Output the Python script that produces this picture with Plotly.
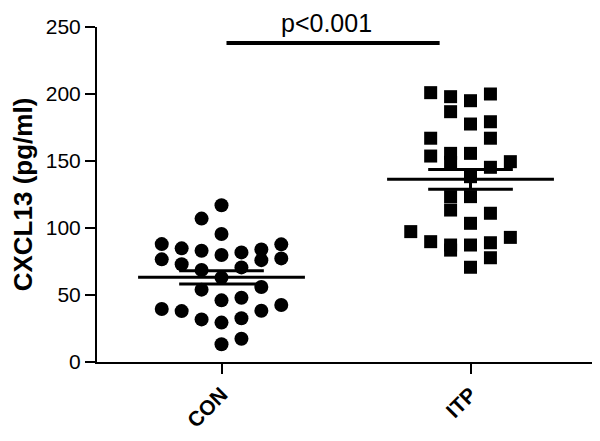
import plotly.graph_objects as go

categories = ["CON", "ITP"]

con_values = [117, 107, 95.5, 88, 76.6, 84.8, 73, 83, 79.9, 81.8, 84, 76, 87.8, 77.3,
              68.7, 70.6, 63, 54, 56, 46, 48, 39.5, 38, 42.5, 38.3, 31.8, 29.4, 32.6, 13.2, 17.4]
con_cols = [0, -1, 0, -3, -3, -2, -2, -1, 0, 1, 2, 2, 3, 3,
            -1, 1, 0, -1, 2, 0, 1, -3, -2, 3, 2, -1, 0, 1, 0, 1]

itp_values = [201, 198, 195, 200, 186.8, 177.6, 179.3, 167, 167, 153.7, 155.7, 155.7, 149, 145.3,
              149.5, 138.3, 123.4, 123.4, 113.4, 111, 103.5, 97.3, 89.8, 87.3, 83.5, 87.3, 89, 77.8, 93, 70.7]
itp_cols = [-2, -1, 0, 1, -1, 0, 1, -2, 1, -2, -1, 0, -1, 1,
            2, 0, -1, 0, -1, 1, 0, -3, -2, -1, -1, 0, 1, 1, 2, 0]

con_mean, con_sem = 63.2, 4.9
itp_mean, itp_sem = 136.3, 7.4
p_text = "p<0.001"
sig_y = 238

col_step = 0.08
fig = go.Figure()
fig.add_trace(go.Scatter(x=[0 + c * col_step for c in con_cols], y=con_values, mode="markers",
                         marker=dict(symbol="circle", size=14, color="black"), showlegend=False))
fig.add_trace(go.Scatter(x=[1 + c * col_step for c in itp_cols], y=itp_values, mode="markers",
                         marker=dict(symbol="square", size=13, color="black"), showlegend=False))

for i, (m, s) in enumerate([(con_mean, con_sem), (itp_mean, itp_sem)]):
    fig.add_shape(type="line", x0=i - 0.335, x1=i + 0.335, y0=m, y1=m, line=dict(color="black", width=3))
    for yy in (m - s, m + s):
        fig.add_shape(type="line", x0=i - 0.17, x1=i + 0.17, y0=yy, y1=yy, line=dict(color="black", width=3))
    fig.add_shape(type="line", x0=i, x1=i, y0=m - s, y1=m + s, line=dict(color="black", width=3))

fig.add_shape(type="line", x0=0.02, x1=0.876, y0=sig_y, y1=sig_y, line=dict(color="black", width=4))
fig.add_annotation(x=0.42, y=sig_y, text=p_text, showarrow=False, yanchor="bottom", yshift=4,
                   font=dict(family="Arial, Liberation Sans", size=25, color="black"))

fig.update_layout(
    width=592, height=433, plot_bgcolor="white", paper_bgcolor="white",
    margin=dict(l=89, r=0, t=19, b=79, autoexpand=False),
    font=dict(family="Arial, Liberation Sans", color="black"),
    xaxis=dict(range=[-0.5, 1.52], tickvals=[0, 1], ticktext=[f"<b>{c}</b>" for c in categories],
               tickangle=-45, ticks="outside", ticklen=10, tickwidth=2, tickcolor="black",
               showline=True, linecolor="black", linewidth=2, showgrid=False, zeroline=False,
               tickfont=dict(size=21), automargin=False),
    yaxis=dict(range=[0, 250], tickvals=[0, 50, 100, 150, 200, 250], ticks="outside", ticklen=10,
               tickwidth=2, tickcolor="black", showline=True, linecolor="black", linewidth=2,
               showgrid=False, zeroline=False, tickfont=dict(size=21),
               tickprefix="<b>", ticksuffix="</b>", automargin=False,
               title=dict(text="<b>CXCL13 (pg/ml)</b>", font=dict(size=26), standoff=6)),
)
fig.write_html("out.html")
